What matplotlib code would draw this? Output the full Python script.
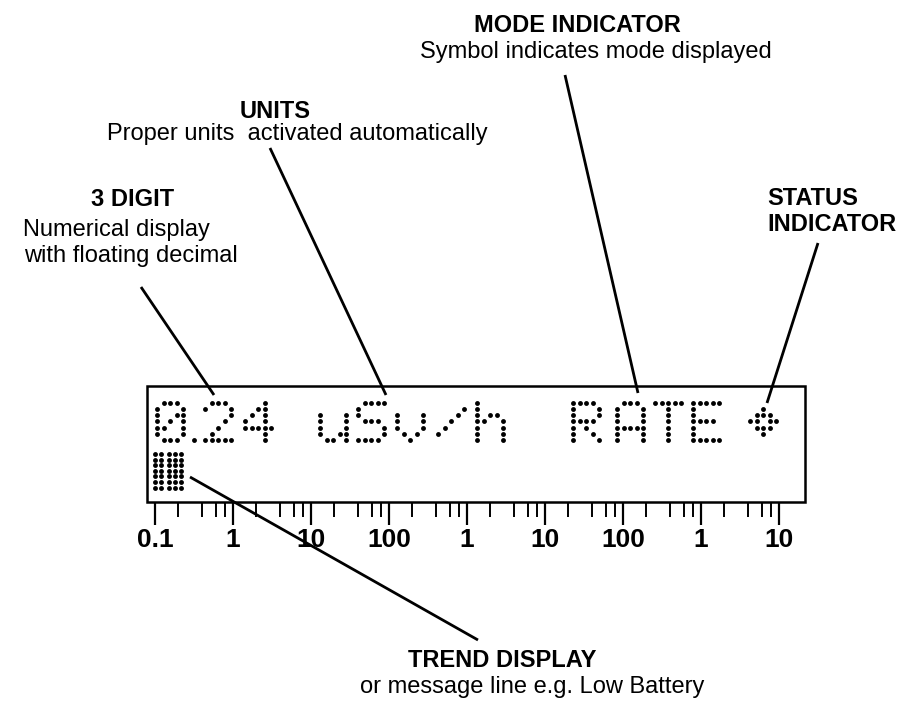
import numpy as np
import matplotlib
matplotlib.use("Agg")
import matplotlib.pyplot as plt
from matplotlib.patches import Rectangle
from matplotlib.ticker import NullFormatter

plt.rcParams['font.family'] = ['Liberation Sans', 'DejaVu Sans']

# display contents (dot-matrix characters and their left edge, px)
chars = ['0', '.', '2', '4', 'u', 'S', 'v', '/', 'h', 'R', 'A', 'T', 'E', '*']
char_x = [157, 194, 205, 245, 320, 358, 397, 438, 477, 573, 617, 655, 693, 750]

# log scale under the display
decade_labels = ['0.1', '1', '10', '100', '1', '10', '100', '1', '10']
decade_values = [0.1, 1, 10, 100, 1e3, 1e4, 1e5, 1e6, 1e7]
minor_mult = [2, 4, 6, 8]

# callouts: (text, x, baseline y, bold, ha)
labels = [
    ('MODE INDICATOR', 577, 32, True, 'center'),
    ('Symbol indicates mode displayed', 596, 58, False, 'center'),
    ('UNITS', 240, 118, True, 'left'),
    ('Proper units  activated automatically', 107, 140, False, 'left'),
    ('3 DIGIT', 91, 206, True, 'left'),
    ('Numerical display', 23, 236, False, 'left'),
    ('with floating decimal', 24, 262, False, 'left'),
    ('STATUS', 767, 205, True, 'left'),
    ('INDICATOR', 767, 231, True, 'left'),
    ('TREND DISPLAY', 502, 667, True, 'center'),
    ('or message line e.g. Low Battery', 532, 693, False, 'center'),
]
leader_start = [(141, 287), (270, 148), (565, 75), (818, 243), (190, 477)]
leader_end = [(214, 395), (386, 395), (638, 393), (767, 403), (478, 640)]

# 5x7 glyphs
glyphs = {
    '0': [".XXX.", "X...X", "X..XX", "X.X.X", "XX..X", "X...X", ".XXX."],
    '.': [".....", ".....", ".....", ".....", ".....", ".....", "X...."],
    '2': [".XXX.", "X...X", "....X", "...X.", "..X..", ".X...", "XXXXX"],
    '4': ["...X.", "..XX.", ".X.X.", "X..X.", "XXXXX", "...X.", "...X."],
    'u': [".....", ".....", "X...X", "X...X", "X...X", "X..XX", ".XX.X"],
    'S': [".XXXX", "X....", "X....", ".XXX.", "....X", "....X", "XXXX."],
    'v': [".....", ".....", "X...X", "X...X", "X...X", ".X.X.", "..X.."],
    '/': [".....", "....X", "...X.", "..X..", ".X...", "X....", "....."],
    'h': ["X....", "X....", "X.XX.", "XX..X", "X...X", "X...X", "X...X"],
    'R': ["XXXX.", "X...X", "X...X", "XXXX.", "X.X..", "X..X.", "X...X"],
    'A': [".XXX.", "X...X", "X...X", "X...X", "XXXXX", "X...X", "X...X"],
    'T': ["XXXXX", "..X..", "..X..", "..X..", "..X..", "..X..", "..X.."],
    'E': ["XXXXX", "X....", "X....", "XXXX.", "X....", "X....", "XXXXX"],
    '*': [".....", "..X..", ".XXX.", "XX.XX", ".XXX.", "..X..", "....."],
}
trend_cols = [155, 161, 169, 175, 181]

fig = plt.figure(figsize=(9.11, 7.02), dpi=100)
ax = fig.add_axes([0, 0, 1, 1])
ax.set_xlim(0, 911)
ax.set_ylim(702, 0)
ax.axis('off')

# display window
box_l, box_r, box_t, box_b = 147, 805, 386, 502
ax.add_patch(Rectangle((box_l, box_t), box_r - box_l, box_b - box_t,
                       fill=False, lw=1.8, ec='black'))

col_pitch, row_pitch, top = 6.5, 6.15, 403
xs, ys = [], []
for ch, x0 in zip(chars, char_x):
    for r, row in enumerate(glyphs[ch]):
        for c, v in enumerate(row):
            if v == 'X':
                xs.append(x0 + c * col_pitch)
                ys.append(top + r * row_pitch)
# trend bar glyph
for cx in trend_cols:
    for r in range(7):
        xs.append(cx)
        ys.append(454 + r * 5.6)
ax.plot(xs, ys, 'o', color='black', ms=3.5, mew=0)

for (text, x, y, bold, ha) in labels:
    ax.text(x, y, text, fontsize=17, fontweight='bold' if bold else 'normal',
            ha=ha, va='baseline')

for (x1, y1), (x2, y2) in zip(leader_start, leader_end):
    ax.plot([x1, x2], [y1, y2], color='black', lw=2.0, solid_capstyle='butt', zorder=5)

# logarithmic scale axis under the window
x_first, x_last = 155, 779
dec_px = (x_last - x_first) / 8
lo = 0.1 * 10 ** (-(x_first - box_l) / dec_px)
hi = 1e7 * 10 ** ((box_r - x_last) / dec_px)
sax = fig.add_axes([box_l / 911, 1 - box_b / 702, (box_r - box_l) / 911, 0.0001])
sax.set_zorder(-1)
sax.set_xscale('log')
sax.set_xlim(lo, hi)
for s in sax.spines.values():
    s.set_visible(False)
sax.patch.set_visible(False)
sax.yaxis.set_visible(False)
sax.set_xticks(decade_values)
sax.set_xticklabels(decade_labels, fontsize=19, fontweight='bold')
minor = [m * d for d in decade_values[:-1] for m in minor_mult]
sax.set_xticks(minor, minor=True)
sax.xaxis.set_minor_formatter(NullFormatter())
sax.tick_params(axis='x', which='major', direction='out', length=16.5, width=1.6, pad=2)
sax.tick_params(axis='x', which='minor', direction='out', length=10.5, width=1.4)

fig.savefig('out.png', dpi=100)
